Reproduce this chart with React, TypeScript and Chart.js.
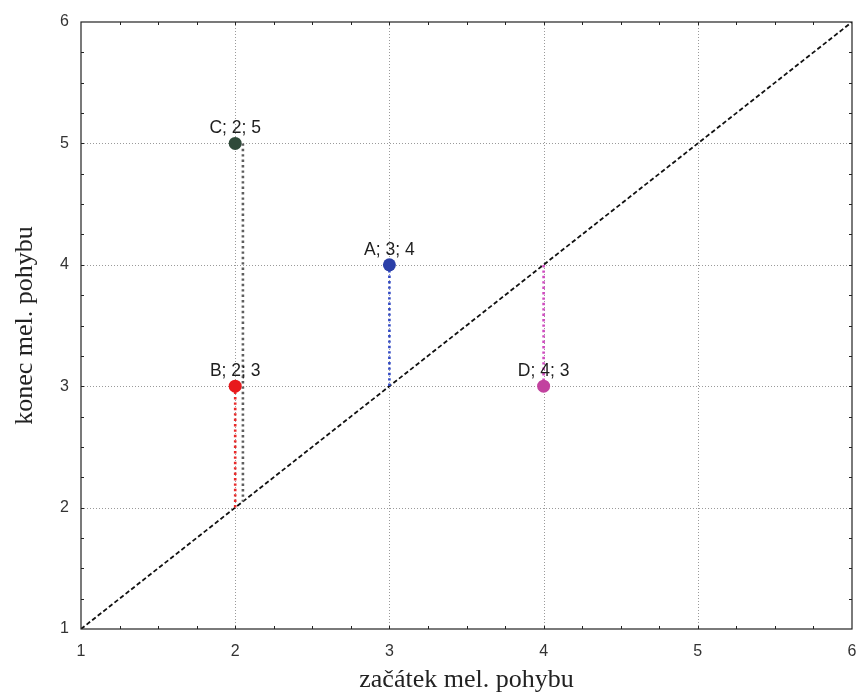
import React, { useEffect, useRef } from "react";
import { Chart, registerables } from "chart.js";

Chart.register(...registerables);

// ---- data ----
const pointNames = ["A", "B", "C", "D"];
const startValues = [3, 2, 2, 4]; // začátek mel. pohybu (x)
const endValues = [4, 3, 5, 3]; // konec mel. pohybu (y)
const dropOffsets = [0, 0, 0.05, 0]; // small horizontal shift of C's drop line
const pointColors = ["#2b3fa8", "#e8191c", "#2f4a3a", "#c2429f"];
const dropColors = ["#3048c4", "#e82a2a", "#5e5e5e", "#d04cc0"];
const axisTicks = [1, 2, 3, 4, 5, 6];
const minorStep = 0.25;
const xTitle = "začátek mel. pohybu";
const yTitle = "konec mel. pohybu";

const FRAME = "#222";
const TICK_FONT = "'Liberation Sans', Arial, sans-serif";
const TITLE_FONT = "'Liberation Serif', 'Times New Roman', serif";

const framePlugin = {
  id: "frameGrid",
  beforeDatasetsDraw(chart: any) {
    const { ctx, chartArea: a, scales } = chart;
    const xs = scales.x;
    const ys = scales.y;
    ctx.save();
    ctx.strokeStyle = "#9a9a9a";
    ctx.lineWidth = 1;
    ctx.setLineDash([1, 2]);
    axisTicks.slice(1, -1).forEach((v) => {
      const px = Math.round(xs.getPixelForValue(v)) + 0.5;
      ctx.beginPath();
      ctx.moveTo(px, a.top);
      ctx.lineTo(px, a.bottom);
      ctx.stroke();
      const py = Math.round(ys.getPixelForValue(v)) + 0.5;
      ctx.beginPath();
      ctx.moveTo(a.left, py);
      ctx.lineTo(a.right, py);
      ctx.stroke();
    });
    ctx.restore();
  },
  afterDatasetsDraw(chart: any) {
    const { ctx, chartArea: a, scales } = chart;
    const xs = scales.x;
    const ys = scales.y;
    ctx.save();
    // labels
    ctx.fillStyle = "#1e1e1e";
    ctx.font = `17.5px ${TICK_FONT}`;
    ctx.textAlign = "center";
    ctx.textBaseline = "alphabetic";
    pointNames.forEach((n, i) => {
      const px = xs.getPixelForValue(startValues[i]);
      const py = ys.getPixelForValue(endValues[i]);
      ctx.fillText(`${n}; ${startValues[i]}; ${endValues[i]}`, px, py - 10);
    });
    // frame
    ctx.strokeStyle = FRAME;
    ctx.lineWidth = 1.2;
    ctx.setLineDash([]);
    ctx.strokeRect(a.left, a.top, a.right - a.left, a.bottom - a.top);
    // inward minor ticks on all sides
    ctx.lineWidth = 1;
    const lo = axisTicks[0];
    const hi = axisTicks[axisTicks.length - 1];
    const n = Math.round((hi - lo) / minorStep);
    for (let k = 1; k < n; k++) {
      const v = lo + k * minorStep;
      const px = Math.round(xs.getPixelForValue(v)) + 0.5;
      const py = Math.round(ys.getPixelForValue(v)) + 0.5;
      ctx.beginPath();
      ctx.moveTo(px, a.bottom);
      ctx.lineTo(px, a.bottom - 3);
      ctx.moveTo(px, a.top);
      ctx.lineTo(px, a.top + 3);
      ctx.moveTo(a.left, py);
      ctx.lineTo(a.left + 3, py);
      ctx.moveTo(a.right, py);
      ctx.lineTo(a.right - 3, py);
      ctx.stroke();
    }
    ctx.restore();
  },
};

export default function App() {
  const ref = useRef<HTMLCanvasElement | null>(null);

  useEffect(() => {
    if (!ref.current) return;
    const lo = axisTicks[0];
    const hi = axisTicks[axisTicks.length - 1];

    const datasets: any[] = [];
    // points
    pointNames.forEach((n, i) => {
      datasets.push({
        label: n,
        data: [{ x: startValues[i], y: endValues[i] }],
        pointRadius: 6.5,
        pointBackgroundColor: pointColors[i],
        pointBorderWidth: 0,
        showLine: false,
        order: 0,
      });
    });
    // drop lines to the diagonal
    pointNames.forEach((n, i) => {
      const x = startValues[i] + dropOffsets[i];
      datasets.push({
        label: n + "-drop",
        data: [
          { x, y: endValues[i] },
          { x, y: x },
        ],
        showLine: true,
        borderColor: dropColors[i],
        borderWidth: 2.6,
        borderDash: [2.4, 3],
        pointRadius: 0,
        order: 1,
      });
    });
    // diagonal
    datasets.push({
      label: "diagonal",
      data: [
        { x: lo, y: lo },
        { x: hi, y: hi },
      ],
      showLine: true,
      borderColor: "#111",
      borderWidth: 1.8,
      borderDash: [4.5, 2.6],
      pointRadius: 0,
      order: 2,
    });

    const chart = new Chart(ref.current, {
      type: "scatter",
      data: { datasets },
      plugins: [framePlugin],
      options: {
        animation: false,
        responsive: false,
        events: [],
        layout: { padding: { top: 22, right: 7, left: 0, bottom: 0 } },
        plugins: { legend: { display: false }, tooltip: { enabled: false } },
        scales: {
          x: {
            type: "linear",
            min: lo,
            max: hi,
            afterBuildTicks: (s: any) => {
              s.ticks = axisTicks.map((v) => ({ value: v }));
            },
            afterFit: (s: any) => {
              s.height = 68;
              s.paddingLeft = 0;
              s.paddingRight = 0;
            },
            grid: { display: false, drawTicks: false },
            border: { display: false },
            ticks: {
              padding: 13,
              color: "#333",
              font: { family: TICK_FONT, size: 16 },
              maxRotation: 0,
            },
            title: {
              display: true,
              text: xTitle,
              color: "#222",
              font: { family: TITLE_FONT, size: 26, lineHeight: 1 },
              padding: { top: 0, bottom: 4 },
            },
          },
          y: {
            type: "linear",
            min: lo,
            max: hi,
            afterBuildTicks: (s: any) => {
              s.ticks = axisTicks.map((v) => ({ value: v }));
            },
            afterFit: (s: any) => {
              s.width = 81;
              s.paddingTop = 0;
              s.paddingBottom = 0;
            },
            grid: { display: false, drawTicks: false },
            border: { display: false },
            ticks: {
              padding: 12,
              color: "#333",
              font: { family: TICK_FONT, size: 16 },
            },
            title: {
              display: true,
              text: yTitle,
              color: "#222",
              font: { family: TITLE_FONT, size: 26, lineHeight: 1 },
              padding: { top: 12, bottom: 0 },
            },
          },
        },
      },
    });
    return () => chart.destroy();
  }, []);

  return (
    <div style={{ position: "absolute", left: 0, top: 0, width: 859, height: 697, background: "#fff" }}>
      <canvas ref={ref} width={859} height={697} style={{ display: "block" }} />
    </div>
  );
}
